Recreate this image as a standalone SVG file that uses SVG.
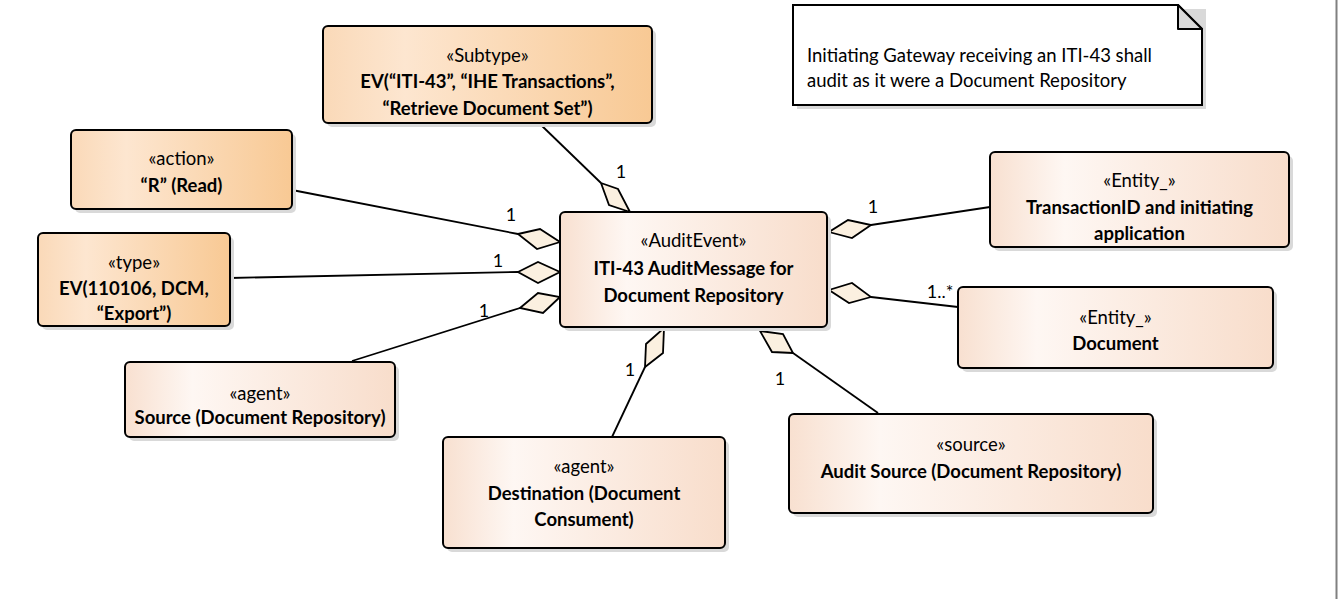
<svg xmlns="http://www.w3.org/2000/svg" width="1339" height="599" viewBox="0 0 1339 599">
<defs>
<linearGradient id="gOr" x1="0" y1="0" x2="1" y2="0">
<stop offset="0" stop-color="#FAD9B8"/>
<stop offset="0.25" stop-color="#FDE6D0"/>
<stop offset="1" stop-color="#F8C994"/>
</linearGradient>
<linearGradient id="gPk" x1="0" y1="0" x2="1" y2="0">
<stop offset="0" stop-color="#F8E0D0"/>
<stop offset="0.25" stop-color="#FEF7F3"/>
<stop offset="1" stop-color="#F8DDCB"/>
</linearGradient>
<style>
.sh{fill:#D9D9D9;}
.or{fill:url(#gOr);stroke:#000;stroke-width:2;}
.pk{fill:url(#gPk);stroke:#000;stroke-width:2;}
.st{font-family:Lato,"Liberation Sans",sans-serif;font-size:18.5px;fill:#000;text-anchor:middle;dominant-baseline:central;}
.nm{font-family:Lato,"Liberation Sans",sans-serif;font-size:18.5px;font-weight:bold;fill:#000;text-anchor:middle;dominant-baseline:central;}
.ml{font-family:Lato,"Liberation Sans",sans-serif;font-size:18px;fill:#000;text-anchor:middle;dominant-baseline:central;}
.nt{font-family:Lato,"Liberation Sans",sans-serif;font-size:18.5px;fill:#000;dominant-baseline:central;}
.ln{stroke:#000;stroke-width:1.8;fill:none;}
.dm{fill:#FBF0E0;stroke:#000;stroke-width:1.8;stroke-linejoin:miter;}
</style>
</defs>
<rect x="0" y="0" width="1339" height="599" fill="#FFFFFF"/>
<line x1="1336.5" y1="0" x2="1336.5" y2="599" stroke="#808080" stroke-width="2"/>

<g id="connectors">
<line class="ln" x1="540" y1="124" x2="601" y2="183"/>
<polygon class="dm" points="601,183 618,189 630,212 609,205"/>
<text class="ml" x="621" y="171">1</text>

<line class="ln" x1="292" y1="190" x2="518" y2="234"/>
<polygon class="dm" points="518,234 540,229 560,242 537,249"/>
<text class="ml" x="511" y="214">1</text>

<line class="ln" x1="230" y1="278" x2="518" y2="272"/>
<polygon class="dm" points="518,272 538,262 560,272 538,283"/>
<text class="ml" x="498" y="260">1</text>

<line class="ln" x1="352" y1="361" x2="520" y2="308"/>
<polygon class="dm" points="520,308 538,293 560,297 543,313"/>
<text class="ml" x="484" y="310">1</text>

<line class="ln" x1="612" y1="437" x2="645" y2="367"/>
<polygon class="dm" points="645,367 646,344 664,328 663,353"/>
<text class="ml" x="630" y="369">1</text>

<line class="ln" x1="878" y1="413" x2="793" y2="353"/>
<polygon class="dm" points="793,353 772,352 760,331 783,334"/>
<text class="ml" x="780" y="378">1</text>

<line class="ln" x1="990" y1="207" x2="871" y2="225"/>
<polygon class="dm" points="871,225 852,238 829,232 848,220"/>
<text class="ml" x="873" y="206">1</text>

<line class="ln" x1="958" y1="307" x2="871" y2="297"/>
<polygon class="dm" points="871,297 849,303 829,290 852,283"/>
<text class="ml" x="940" y="291">1..*</text>
</g>

<g id="note">
<polygon class="sh" points="797,9 1206,9 1206,109 797,109"/>
<polygon points="793,5 1178,5 1202,29 1202,105 793,105" fill="#FFFFFF" stroke="#000" stroke-width="2"/>
<polygon points="1178,5 1178,29 1202,29" fill="#D9D9D9" stroke="#000" stroke-width="2" stroke-linejoin="round"/>
<text class="nt" x="807" y="55">Initiating Gateway receiving an ITI-43 shall</text>
<text class="nt" x="807" y="80">audit as it were a Document Repository</text>
</g>

<g id="subtype">
<rect class="sh" x="327" y="30" width="329" height="97" rx="5"/>
<rect class="or" x="323" y="26" width="329" height="97" rx="5"/>
<text class="st" x="487.5" y="55">«Subtype»</text>
<text class="nm" x="487.5" y="81">EV(“ITI-43”, “IHE Transactions”,</text>
<text class="nm" x="487.5" y="108">“Retrieve Document Set”)</text>
</g>

<g id="action">
<rect class="sh" x="75" y="134" width="221" height="79" rx="5"/>
<rect class="or" x="71" y="130" width="221" height="79" rx="5"/>
<text class="st" x="181.5" y="158">«action»</text>
<text class="nm" x="181.5" y="185">“R” (Read)</text>
</g>

<g id="type">
<rect class="sh" x="42" y="237" width="192" height="93" rx="5"/>
<rect class="or" x="38" y="233" width="192" height="93" rx="5"/>
<text class="st" x="134" y="262">«type»</text>
<text class="nm" x="134" y="288">EV(110106, DCM,</text>
<text class="nm" x="134" y="313">“Export”)</text>
</g>

<g id="auditevent">
<rect class="sh" x="564" y="216" width="267" height="115" rx="5"/>
<rect class="pk" x="560" y="212" width="267" height="115" rx="5"/>
<text class="st" x="693.5" y="240">«AuditEvent»</text>
<text class="nm" x="693.5" y="268">ITI-43 AuditMessage for</text>
<text class="nm" x="693.5" y="295">Document Repository</text>
</g>

<g id="transaction">
<rect class="sh" x="994" y="156" width="299" height="95" rx="5"/>
<rect class="pk" x="990" y="152" width="299" height="95" rx="5"/>
<text class="st" x="1139.5" y="180">«Entity_»</text>
<text class="nm" x="1139.5" y="207">TransactionID and initiating</text>
<text class="nm" x="1139.5" y="233">application</text>
</g>

<g id="document">
<rect class="sh" x="962" y="291" width="315" height="81" rx="5"/>
<rect class="pk" x="958" y="287" width="315" height="81" rx="5"/>
<text class="st" x="1115.5" y="317">«Entity_»</text>
<text class="nm" x="1115.5" y="343">Document</text>
</g>

<g id="source-agent">
<rect class="sh" x="129" y="366" width="270" height="75" rx="5"/>
<rect class="pk" x="125" y="362" width="270" height="75" rx="5"/>
<text class="st" x="260" y="393">«agent»</text>
<text class="nm" x="260" y="417">Source (Document Repository)</text>
</g>

<g id="destination">
<rect class="sh" x="447" y="441" width="282" height="111" rx="5"/>
<rect class="pk" x="443" y="437" width="282" height="111" rx="5"/>
<text class="st" x="584" y="466">«agent»</text>
<text class="nm" x="584" y="493">Destination (Document</text>
<text class="nm" x="584" y="519">Consument)</text>
</g>

<g id="audit-source">
<rect class="sh" x="793" y="418" width="364" height="99" rx="5"/>
<rect class="pk" x="789" y="414" width="364" height="99" rx="5"/>
<text class="st" x="971" y="444">«source»</text>
<text class="nm" x="971" y="471">Audit Source (Document Repository)</text>
</g>
</svg>
